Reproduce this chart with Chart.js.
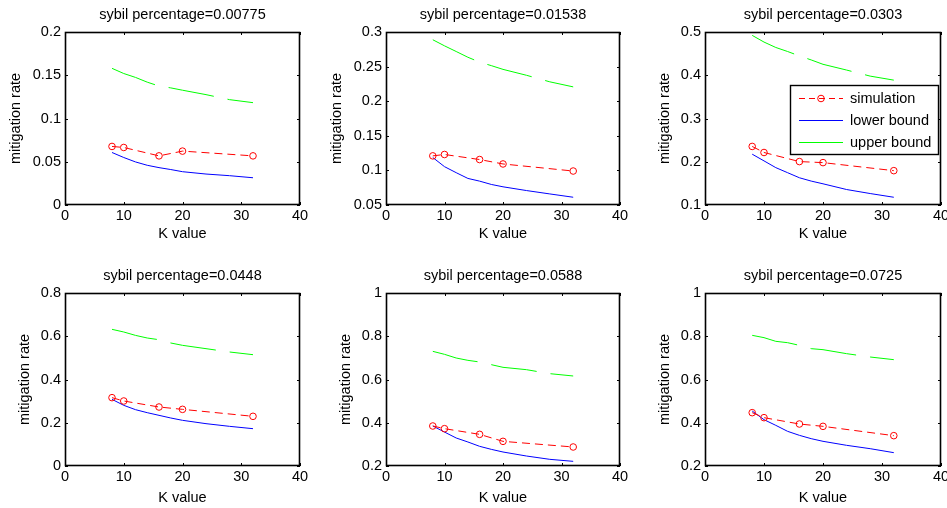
<!DOCTYPE html>
<html>
<head>
<meta charset="utf-8">
<script src="https://cdn.jsdelivr.net/npm/chart.js@4.4.1/dist/chart.umd.min.js"></script>
<style>
  body { margin: 0; background: #fff; }
  canvas { position: absolute; }
</style>
</head>
<body>
<script>
// K values
const simK = [8, 10, 16, 20, 32];
const boundK = [8, 10, 12, 14, 16, 18, 20, 24, 28, 32];

const titles = [
  'sybil percentage=0.00775',
  'sybil percentage=0.01538',
  'sybil percentage=0.0303',
  'sybil percentage=0.0448',
  'sybil percentage=0.0588',
  'sybil percentage=0.0725'
];

const simulation = [
  [0.0677, 0.0665, 0.0568, 0.0623, 0.0568],
  [0.121, 0.123, 0.1157, 0.1093, 0.0991],
  [0.2354, 0.2214, 0.2004, 0.198, 0.1794],
  [0.316, 0.3006, 0.2728, 0.262, 0.2297],
  [0.385, 0.3726, 0.3464, 0.314, 0.2879],
  [0.4466, 0.4235, 0.3942, 0.3834, 0.3403]
];
const lowerBound = [
  [0.0607, 0.0549, 0.0498, 0.0459, 0.0432, 0.041, 0.0385, 0.0358, 0.0339, 0.0315],
  [0.1186, 0.1054, 0.0967, 0.0884, 0.0845, 0.0797, 0.0763, 0.0709, 0.066, 0.0612],
  [0.2175, 0.202, 0.1864, 0.1747, 0.163, 0.1553, 0.149, 0.1358, 0.1265, 0.1179],
  [0.3083, 0.2805, 0.2605, 0.2466, 0.2343, 0.222, 0.2112, 0.1958, 0.1834, 0.1726],
  [0.385, 0.357, 0.3295, 0.311, 0.291, 0.277, 0.2647, 0.2462, 0.2308, 0.2216],
  [0.4543, 0.4143, 0.388, 0.3603, 0.3418, 0.3264, 0.3141, 0.2956, 0.2801, 0.2617]
];
const upperBound = [
  [0.158, 0.152, 0.1475, 0.142, 0.1375, 0.1354, 0.1327, 0.1276, 0.1218, 0.1183],
  [0.2888, 0.28, 0.2718, 0.2635, 0.2565, 0.2514, 0.246, 0.2375, 0.228, 0.2207],
  [0.4922, 0.4767, 0.4642, 0.4549, 0.4447, 0.4354, 0.4253, 0.412, 0.398, 0.3887],
  [0.632, 0.6197, 0.604, 0.5919, 0.584, 0.5688, 0.558, 0.5426, 0.5272, 0.5148],
  [0.7302, 0.7164, 0.6994, 0.6886, 0.681, 0.6686, 0.6563, 0.6455, 0.627, 0.6162],
  [0.8042, 0.7935, 0.7765, 0.7703, 0.758, 0.7426, 0.738, 0.7195, 0.704, 0.6917]
];

// axis ranges / ticks
const xMin = 0, xMax = 40, xStep = 10;
const yMin = [0, 0.05, 0.1, 0, 0.2, 0.2];
const yMax = [0.2, 0.3, 0.5, 0.8, 1, 1];
const yStep = [0.05, 0.05, 0.1, 0.2, 0.2, 0.2];
const legendLabels = ['simulation', 'lower bound', 'upper bound'];

// layout of the six subplots (page pixels)
const plotLeft = [65, 386, 705, 65, 386, 705];
const plotTop = [32, 32, 32, 293, 293, 293];
const plotW = [235, 234, 236, 235, 234, 236];
const plotH = 173;
const yAxisW = [58, 58, 49, 49, 49, 49];
const xAxisH = [38, 38, 38, 41, 41, 41];
const titleH = 26;
const FS = 14.5;

Chart.defaults.font.family = '"Liberation Sans", Arial, sans-serif';
Chart.defaults.font.size = FS;
Chart.defaults.color = '#000';

const frame = {
  id: 'frame',
  afterDraw(chart) {
    const { ctx, chartArea: a, scales } = chart;
    ctx.save();
    ctx.strokeStyle = '#000';
    ctx.lineWidth = 1.6;
    ctx.strokeRect(a.left + 0.5, a.top + 0.5, a.right - a.left - 1, a.bottom - a.top - 1);
    ctx.lineWidth = 1;
    ctx.beginPath();
    scales.x.ticks.forEach(t => {
      const px = Math.round(scales.x.getPixelForValue(t.value)) + 0.5;
      ctx.moveTo(px, a.bottom); ctx.lineTo(px, a.bottom - 3);
      ctx.moveTo(px, a.top); ctx.lineTo(px, a.top + 3);
    });
    scales.y.ticks.forEach(t => {
      const py = Math.round(scales.y.getPixelForValue(t.value)) + 0.5;
      ctx.moveTo(a.left, py); ctx.lineTo(a.left + 3, py);
      ctx.moveTo(a.right, py); ctx.lineTo(a.right - 3, py);
    });
    ctx.stroke();

    if (chart.options.plugins.frame && chart.options.plugins.frame.legend) {
      const ds = chart.data.datasets;
      const w = 148, h = 69;
      const x0 = a.right - 151, y0 = a.top + 53;
      ctx.fillStyle = '#fff';
      ctx.fillRect(x0, y0, w, h);
      ctx.lineWidth = 1.4;
      ctx.strokeRect(x0 + 0.5, y0 + 0.5, w, h);
      ctx.font = FS + 'px "Liberation Sans", Arial, sans-serif';
      ctx.textBaseline = 'middle';
      ctx.textAlign = 'left';
      ds.forEach((d, i) => {
        const y = Math.round(y0 + 13.3 + i * 21.7) + 0.5;
        ctx.strokeStyle = d.borderColor;
        ctx.lineWidth = 1;
        ctx.setLineDash(i === 0 ? [6, 4] : []);
        ctx.beginPath();
        ctx.moveTo(x0 + 9, y); ctx.lineTo(x0 + 53, y);
        ctx.stroke();
        ctx.setLineDash([]);
        if (d.pointRadius) {
          ctx.beginPath();
          ctx.arc(x0 + 31, y, d.pointRadius, 0, Math.PI * 2);
          ctx.stroke();
        }
        ctx.fillStyle = '#000';
        ctx.fillText(d.label, x0 + 60, y);
      });
    }
    ctx.restore();
  }
};

titles.forEach((title, i) => {
  const c = document.createElement('canvas');
  const cw = yAxisW[i] + plotW[i] + 14;
  const ch = titleH + plotH + xAxisH[i];
  c.width = cw; c.height = ch;
  c.style.left = (plotLeft[i] - yAxisW[i]) + 'px';
  c.style.top = (plotTop[i] - titleH) + 'px';
  c.style.width = cw + 'px';
  c.style.height = ch + 'px';
  document.body.appendChild(c);

  new Chart(c.getContext('2d'), {
    type: 'line',
    data: {
      datasets: [
        {
          label: legendLabels[0],
          data: simK.map((k, j) => ({ x: k, y: simulation[i][j] })),
          borderColor: '#ff0000',
          borderWidth: 1,
          borderDash: [8, 5],
          pointRadius: 3.3,
          pointBorderColor: '#ff0000',
          pointBackgroundColor: 'rgba(0,0,0,0)',
          pointBorderWidth: 1
        },
        {
          label: legendLabels[1],
          data: boundK.map((k, j) => ({ x: k, y: lowerBound[i][j] })),
          borderColor: '#0000ff',
          borderWidth: 1,
          pointRadius: 0
        },
        {
          label: legendLabels[2],
          data: boundK.map((k, j) => ({ x: k, y: upperBound[i][j] })),
          borderColor: '#00ff00',
          borderWidth: 1,
          borderDash: [46, 14],
          pointRadius: 0
        }
      ]
    },
    options: {
      responsive: false,
      animation: false,
      layout: { padding: { left: 0, right: 14, top: 0, bottom: 0 } },
      plugins: {
        legend: { display: false },
        tooltip: { enabled: false },
        title: {
          display: true,
          fullSize: false,
          text: title,
          font: { size: FS, weight: 'normal' },
          padding: { top: 0, bottom: titleH - FS * 1.2 }
        },
        frame: { legend: i === 2 }
      },
      scales: {
        x: {
          type: 'linear',
          min: xMin, max: xMax,
          grid: { display: false, drawTicks: false },
          border: { display: false },
          ticks: { stepSize: xStep, padding: 2, maxRotation: 0 },
          title: { display: true, text: 'K value', padding: 0 },
          afterFit: s => { s.height = xAxisH[i]; }
        },
        y: {
          min: yMin[i], max: yMax[i],
          grid: { display: false, drawTicks: false },
          border: { display: false },
          ticks: { stepSize: yStep[i], padding: 4, callback: v => String(+v.toFixed(4)) },
          title: { display: true, text: 'mitigation rate', padding: 0 },
          afterFit: s => { s.width = yAxisW[i]; }
        }
      }
    },
    plugins: [frame]
  });
});
</script>
</body>
</html>
